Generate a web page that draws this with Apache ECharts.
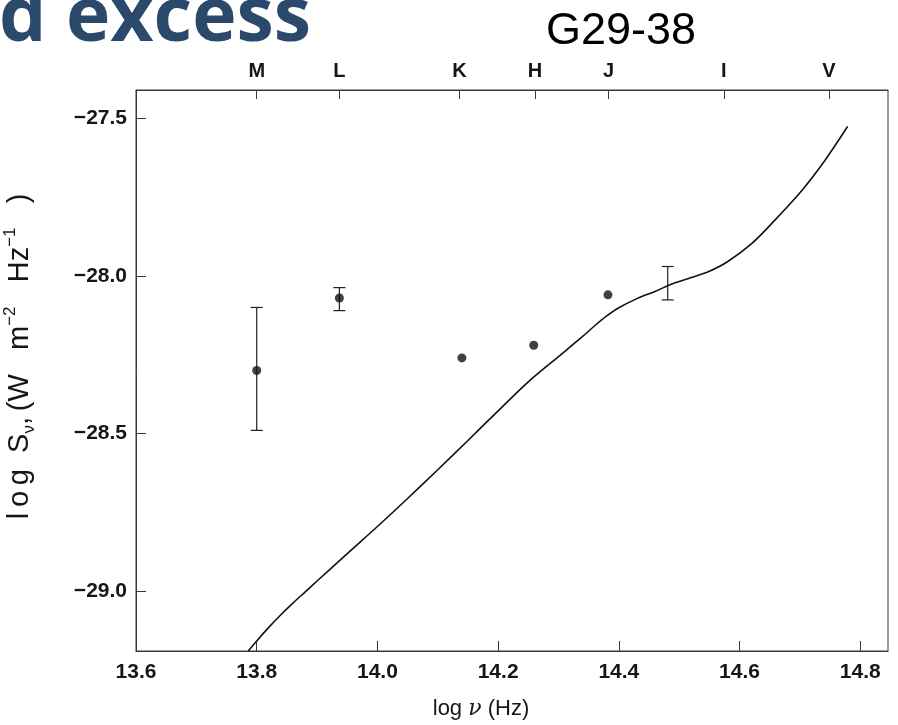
<!DOCTYPE html>
<html>
<head>
<meta charset="utf-8">
<script src="https://cdn.jsdelivr.net/npm/echarts@6/dist/echarts.min.js"></script>
<style>
  html, body { margin: 0; padding: 0; background: #fff; }
  #chart { width: 898px; height: 725px; }
</style>
</head>
<body>
<div id="chart"></div>
<script>
// Photometric bands along the top axis (log frequency of each band centre)
const bandNames = ['M', 'L', 'K', 'H', 'J', 'I', 'V'];
const bandFreqs = [13.800, 13.937, 14.136, 14.261, 14.383, 14.574, 14.748];

// Axis tick values
const xTicks = [13.6, 13.8, 14.0, 14.2, 14.4, 14.6, 14.8];
const yTicks = [-27.5, -28.0, -28.5, -29.0];

// Measured fluxes (dots)
const photX = [13.800, 13.937, 14.140, 14.259, 14.382];
const photY = [-28.30, -28.07, -28.26, -28.22, -28.06];

// Error bars
const errX = [13.800, 13.937, 14.481];
const errLow = [-28.49, -28.11, -28.076];
const errHigh = [-28.10, -28.037, -27.970];

// Model photospheric spectrum
const modelX = [13.786, 13.800, 13.820, 13.840, 13.860, 13.880, 13.900, 13.950, 14.000, 14.050,
                14.100, 14.150, 14.200, 14.250, 14.300, 14.340, 14.360, 14.380, 14.400, 14.430,
                14.460, 14.490, 14.520, 14.550, 14.580, 14.621, 14.659, 14.704, 14.742, 14.779];
const modelY = [-29.190, -29.158, -29.115, -29.075, -29.038, -29.003, -28.968, -28.881, -28.795, -28.706,
                -28.615, -28.522, -28.428, -28.336, -28.256, -28.192, -28.158, -28.127, -28.101, -28.072,
                -28.049, -28.024, -28.005, -27.985, -27.955, -27.896, -27.822, -27.727, -27.632, -27.526];

const xMin = 13.6, xMax = 14.846;
const yMin = -29.19, yMax = -27.41;

const ink = '#161616';
const axisColor = '#3a3a3a';
const sans = 'Liberation Sans, Arial, sans-serif';
const thin = '\u2009';

const chart = echarts.init(document.getElementById('chart'), null, { renderer: 'canvas' });

const option = {
  backgroundColor: '#ffffff',
  animation: false,
  title: [
    {
      text: 'd excess',
      left: -6,
      top: -23,
      textStyle: { fontFamily: 'Open Sans', fontWeight: 'bold', fontSize: 75, color: '#2b4a6b' }
    },
    {
      text: 'G29-38',
      left: 541,
      top: 4,
      textStyle: { fontFamily: sans, fontWeight: 'normal', fontSize: 45, color: '#000' }
    }
  ],
  grid: {
    left: 136, right: 10, top: 90, bottom: 74,
    outerBoundsMode: 'none',
    show: true, borderColor: axisColor, borderWidth: 1, backgroundColor: 'transparent'
  },
  xAxis: [
    {
      type: 'value', min: xMin, max: xMax, position: 'bottom',
      name: '{a|log }{i|ν}{a| (Hz)}', nameLocation: 'middle', nameGap: 47,
      nameTextStyle: {
        padding: [0, 62, 0, 0],
        rich: {
          a: { fontFamily: sans, fontSize: 22, color: ink },
          i: { fontFamily: 'DejaVu Serif', fontStyle: 'italic', fontSize: 22, color: ink }
        }
      },
      axisLine: { show: true, lineStyle: { color: axisColor, width: 1 } },
      axisTick: { show: true, inside: true, length: 10, customValues: xTicks, lineStyle: { color: axisColor } },
      axisLabel: {
        customValues: xTicks, margin: 11, fontFamily: sans, fontSize: 21, fontWeight: 'bold', color: ink,
        formatter: v => v.toFixed(1)
      },
      splitLine: { show: false }
    },
    {
      type: 'value', min: xMin, max: xMax, position: 'top',
      axisLine: { show: true, lineStyle: { color: axisColor, width: 1 } },
      axisTick: { show: true, inside: true, length: 9, customValues: bandFreqs, lineStyle: { color: axisColor } },
      axisLabel: {
        customValues: bandFreqs, margin: 9, fontFamily: sans, fontSize: 20, fontWeight: 'bold', color: ink,
        formatter: v => {
          const i = bandFreqs.findIndex(f => Math.abs(f - v) < 1e-6);
          return i >= 0 ? bandNames[i] : '';
        }
      },
      splitLine: { show: false }
    }
  ],
  yAxis: [
    {
      type: 'value', min: yMin, max: yMax,
      name: '{a|l' + thin + 'o' + thin + 'g  S}{s|ν}{a|,' + thin + '(W   m}{p|−2}{a|   Hz}{p|−1}{a|   )}',
      nameLocation: 'middle', nameGap: 98, nameRotate: 90,
      nameTextStyle: {
        padding: [0, 0, 0, 28],
        rich: {
          a: { fontFamily: sans, fontSize: 29, color: ink, lineHeight: 36, verticalAlign: 'middle' },
          s: { fontFamily: sans, fontSize: 17, color: ink, lineHeight: 36, verticalAlign: 'bottom' },
          p: { fontFamily: sans, fontSize: 17, color: ink, lineHeight: 36, verticalAlign: 'top' }
        }
      },
      axisLine: { show: true, lineStyle: { color: axisColor, width: 1 } },
      axisTick: { show: true, inside: true, length: 10, customValues: yTicks, lineStyle: { color: axisColor } },
      axisLabel: {
        customValues: yTicks, margin: 9, fontFamily: sans, fontSize: 21, fontWeight: 'bold', color: ink,
        formatter: v => '−' + Math.abs(v).toFixed(1)
      },
      splitLine: { show: false }
    }
  ],
  series: [
    {
      name: 'model',
      type: 'line',
      xAxisIndex: 0,
      data: modelX.map((x, i) => [x, modelY[i]]),
      smooth: 0.3,
      showSymbol: false,
      lineStyle: { color: '#111', width: 1.6 },
      z: 2
    },
    {
      name: 'errors',
      type: 'custom',
      xAxisIndex: 0,
      data: errX.map((x, i) => [x, errLow[i], errHigh[i]]),
      renderItem: (params, api) => {
        const lo = api.coord([api.value(0), api.value(1)]);
        const hi = api.coord([api.value(0), api.value(2)]);
        const half = 6;
        const style = { stroke: '#222', lineWidth: 1.2 };
        return {
          type: 'group',
          children: [
            { type: 'line', shape: { x1: lo[0], y1: lo[1], x2: hi[0], y2: hi[1] }, style },
            { type: 'line', shape: { x1: lo[0] - half, y1: lo[1], x2: lo[0] + half, y2: lo[1] }, style },
            { type: 'line', shape: { x1: hi[0] - half, y1: hi[1], x2: hi[0] + half, y2: hi[1] }, style }
          ]
        };
      },
      z: 3
    },
    {
      name: 'photometry',
      type: 'scatter',
      xAxisIndex: 0,
      data: photX.map((x, i) => [x, photY[i]]),
      symbol: 'circle',
      symbolSize: 9,
      itemStyle: { color: '#111' },
      z: 4
    }
  ]
};

chart.setOption(option);
</script>
</body>
</html>
